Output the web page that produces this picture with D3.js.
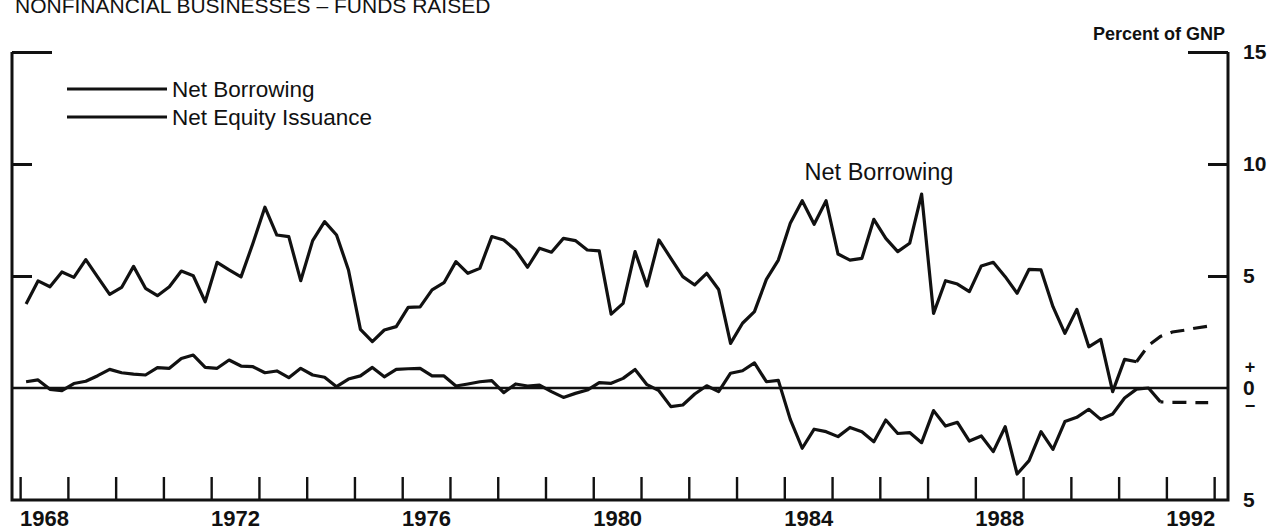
<!DOCTYPE html>
<html lang="en">

<head>
    <meta charset="UTF-8">
    <title>Nonfinancial Businesses - Funds Raised</title>
    <script src="https://d3js.org/d3.v7.min.js"></script>
    <style>
        body { margin: 0; background: #fff; }
        text { font-family: "Liberation Sans", Arial, Helvetica, sans-serif; fill: #111; }
    </style>
</head>

<body>
    <svg id="chart" width="1276" height="532"></svg>

    <script>
        // quarterly data, first point = 1968 Q1 (percent of GNP)
        const startYear = 1968;

        const netBorrowing = [
            3.75, 4.78, 4.52, 5.18, 4.94, 5.73, 4.95, 4.18, 4.49, 5.43,
            4.45, 4.12, 4.52, 5.22, 5.01, 3.85, 5.61, 5.27, 4.96, 6.46,
            8.07, 6.83, 6.76, 4.79, 6.58, 7.43, 6.83, 5.27, 2.62, 2.07,
            2.59, 2.74, 3.60, 3.62, 4.38, 4.70, 5.64, 5.12, 5.34, 6.76,
            6.61, 6.16, 5.39, 6.24, 6.06, 6.68, 6.58, 6.16, 6.12, 3.30,
            3.78, 6.09, 4.55, 6.61, 5.79, 4.97, 4.60, 5.12, 4.40, 1.99,
            2.89, 3.41, 4.85, 5.71, 7.35, 8.36, 7.31, 8.36, 5.98, 5.71,
            5.79, 7.53, 6.68, 6.09, 6.46, 8.66, 3.33, 4.79, 4.64, 4.30,
            5.45, 5.61, 4.97, 4.23, 5.30, 5.27, 3.63, 2.44, 3.51, 1.84,
            2.17, -0.16, 1.28, 1.17
        ];
        // projection (dashed), starts at the last actual quarter
        const netBorrowingProj = [1.17, 1.9, 2.3, 2.5, 2.58, 2.68, 2.76];

        const netEquity = [
            0.28, 0.36, -0.06, -0.12, 0.2, 0.3, 0.55, 0.83, 0.68, 0.62,
            0.58, 0.91, 0.88, 1.32, 1.47, 0.92, 0.88, 1.25, 0.98, 0.95,
            0.68, 0.76, 0.46, 0.88, 0.58, 0.48, 0.06, 0.4, 0.54, 0.92,
            0.5, 0.83, 0.86, 0.88, 0.54, 0.54, 0.09, 0.18, 0.28, 0.33,
            -0.21, 0.18, 0.09, 0.13, -0.16, -0.42, -0.24, -0.09, 0.24, 0.21,
            0.43, 0.83, 0.15, -0.12, -0.83, -0.76, -0.27, 0.1, -0.16, 0.66,
            0.77, 1.12, 0.28, 0.34, -1.4, -2.69, -1.84, -1.95, -2.17, -1.76,
            -1.95, -2.4, -1.43, -2.03, -1.99, -2.44, -1.01, -1.70, -1.53, -2.37,
            -2.14, -2.84, -1.73, -3.84, -3.24, -1.95, -2.74, -1.5, -1.31, -0.95,
            -1.4, -1.16, -0.45, -0.05, 0.0, -0.62
        ];
        const netEquityProj = [-0.62, -0.64, -0.64, -0.65, -0.65];

        const yearTicks = d3.range(1968, 1994);
        const yearLabels = [1968, 1972, 1976, 1980, 1984, 1988, 1992];
        const valueTicks = [-5, 0, 5, 10, 15];

        const svg = d3.select("#chart");

        const x = d3.scaleLinear()
            .domain([1967.83, 1993.29])
            .range([12, 1228]);

        const y = d3.scaleLinear()
            .domain([-5, 15])
            .range([500, 52]);

        // quarter index -> mid quarter date
        const qDate = i => startYear + 0.125 + 0.25 * i;

        const line = d3.line()
            .x(d => x(d.t))
            .y(d => y(d.v));

        const toPts = (arr, offset) => arr.map((v, i) => ({ t: qDate(i + offset), v: v }));

        // bottom axis: yearly ticks pointing up
        svg.append("g")
            .attr("transform", `translate(0,${y(-5)})`)
            .call(d3.axisBottom(x).tickValues(yearTicks).tickSize(-23).tickFormat(""))
            .call(g => g.select(".domain").remove())
            .call(g => g.selectAll(".tick line").attr("stroke", "#111").attr("stroke-width", 2.4));

        // year labels centred in the year
        svg.append("g")
            .attr("transform", `translate(0,${y(-5)})`)
            .call(d3.axisBottom(x).tickValues(yearLabels.map(d => d + 0.5)).tickSize(0).tickPadding(10)
                .tickFormat(d => Math.floor(d)))
            .call(g => g.select(".domain").remove())
            .call(g => g.selectAll("text")
                .style("font-size", "22px")
                .attr("font-weight", "bold")
                .attr("fill", "#111"));

        // frame: left, right, bottom
        svg.append("path")
            .attr("d", `M${x.range()[0]},${y(15)}V${y(-5)}H${x.range()[1]}V${y(15)}`)
            .attr("fill", "none")
            .attr("stroke", "#111")
            .attr("stroke-width", 3);

        // left ticks
        svg.append("g")
            .attr("transform", `translate(${x.range()[0]},0)`)
            .call(d3.axisRight(y).tickValues([5, 10]).tickSize(20).tickFormat(""))
            .call(g => g.select(".domain").remove())
            .call(g => g.selectAll(".tick line").attr("stroke", "#111").attr("stroke-width", 3));
        svg.append("g")
            .attr("transform", `translate(${x.range()[0]},0)`)
            .call(d3.axisRight(y).tickValues([15]).tickSize(40).tickFormat(""))
            .call(g => g.select(".domain").remove())
            .call(g => g.selectAll(".tick line").attr("stroke", "#111").attr("stroke-width", 3));

        // right ticks
        svg.append("g")
            .attr("transform", `translate(${x.range()[1]},0)`)
            .call(d3.axisLeft(y).tickValues([5, 10]).tickSize(20).tickFormat(""))
            .call(g => g.select(".domain").remove())
            .call(g => g.selectAll(".tick line").attr("stroke", "#111").attr("stroke-width", 3));
        svg.append("g")
            .attr("transform", `translate(${x.range()[1]},0)`)
            .call(d3.axisLeft(y).tickValues([15]).tickSize(40).tickFormat(""))
            .call(g => g.select(".domain").remove())
            .call(g => g.selectAll(".tick line").attr("stroke", "#111").attr("stroke-width", 3));

        // right labels
        svg.append("g")
            .attr("transform", `translate(${x.range()[1]},0)`)
            .call(d3.axisRight(y).tickValues(valueTicks).tickSize(0).tickPadding(15).tickFormat(d => Math.abs(d)))
            .call(g => g.select(".domain").remove())
            .call(g => g.selectAll("text").style("font-size", "21px").attr("font-weight", "bold").attr("fill", "#111"));

        svg.append("text")
            .attr("x", x.range()[1] + 22)
            .attr("y", y(0) - 15)
            .attr("text-anchor", "middle")
            .style("font-size", "18px")
            .attr("font-weight", "bold")
            .text("+");
        svg.append("text")
            .attr("x", x.range()[1] + 22)
            .attr("y", y(0) + 24)
            .attr("text-anchor", "middle")
            .style("font-size", "18px")
            .attr("font-weight", "bold")
            .text("\u2212");

        // zero line
        svg.append("line")
            .attr("x1", x.range()[0]).attr("x2", x.range()[1])
            .attr("y1", y(0)).attr("y2", y(0))
            .attr("stroke", "#111")
            .attr("stroke-width", 2.6);

        // series
        svg.append("path")
            .datum(toPts(netBorrowing, 0))
            .attr("d", line)
            .attr("fill", "none")
            .attr("stroke", "#111")
            .attr("stroke-width", 3.2)
            .attr("stroke-linejoin", "round");

        svg.append("path")
            .datum(toPts(netBorrowingProj, netBorrowing.length - 1))
            .attr("d", line)
            .attr("fill", "none")
            .attr("stroke", "#111")
            .attr("stroke-width", 3.2)
            .attr("stroke-dasharray", "14,9");

        svg.append("path")
            .datum(toPts(netEquity, 0))
            .attr("d", line)
            .attr("fill", "none")
            .attr("stroke", "#111")
            .attr("stroke-width", 3.2)
            .attr("stroke-linejoin", "round");

        svg.append("path")
            .datum(toPts(netEquityProj, netEquity.length - 1))
            .attr("d", line)
            .attr("fill", "none")
            .attr("stroke", "#111")
            .attr("stroke-width", 3.2)
            .attr("stroke-dasharray", "14,9")
            .attr("stroke-dashoffset", -12);

        // legend
        const legendItems = ["Net Borrowing", "Net Equity Issuance"];
        const legend = svg.append("g").attr("transform", "translate(67,89)");
        legendItems.forEach((name, i) => {
            legend.append("line")
                .attr("x1", 0).attr("x2", 100)
                .attr("y1", i * 28).attr("y2", i * 28)
                .attr("stroke", "#111")
                .attr("stroke-width", 3);
            legend.append("text")
                .attr("x", 105)
                .attr("y", i * 28)
                .attr("dy", "0.35em")
                .style("font-size", "22.5px")
                .text(name);
        });

        // annotation
        svg.append("text")
            .attr("x", 879)
            .attr("y", 180)
            .attr("text-anchor", "middle")
            .style("font-size", "23.5px")
            .text("Net Borrowing");

        // titles
        svg.append("text")
            .attr("x", 15)
            .attr("y", 13)
            .style("font-size", "21px")
            .text("NONFINANCIAL BUSINESSES \u2013 FUNDS RAISED");

        svg.append("text")
            .attr("x", 1225)
            .attr("y", 40)
            .attr("text-anchor", "end")
            .style("font-size", "18px")
            .attr("font-weight", "bold")
            .text("Percent of GNP");
    </script>
</body>

</html>
